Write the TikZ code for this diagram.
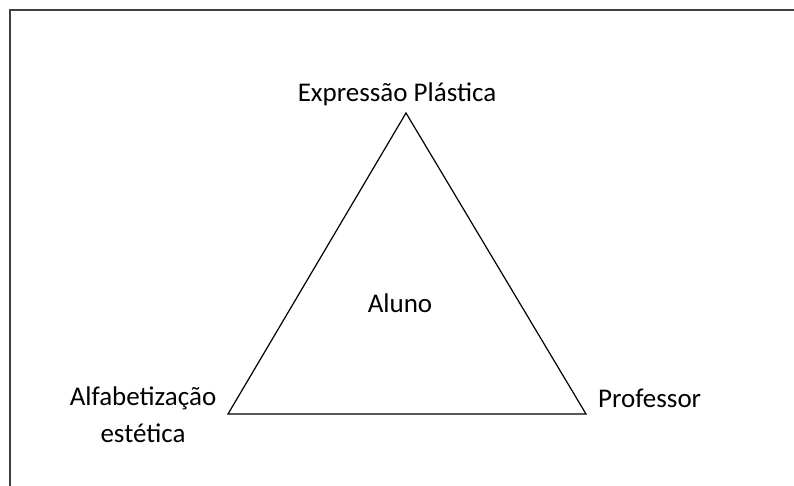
\documentclass[tikz,border=0pt]{standalone}
\usepackage{fontspec}
\setmainfont{Carlito}
\usetikzlibrary{positioning}

\begin{document}
\begin{tikzpicture}[x=1pt,y=1pt,
	txt/.style={font=\fontsize{27}{37}\selectfont, inner sep=0pt, anchor=base}]
	\useasboundingbox (0,0) rectangle (794,486);
	\draw[line width=2pt, black!75] (10,0) -- (10,476) -- (794,476);

	\coordinate (top) at (406,373);
	\coordinate (left) at (228,72);
	\coordinate (right) at (586,72);
	\draw[line width=1.2pt] (top) -- (left) -- (right) -- cycle;

	\node[txt] (expressao) at (397,384) {Expressão Plástica};
	\node[txt] (aluno) at (400,173) {Aluno};
	\node[txt, align=center] (alfabetizacao) at (143,43) {Alfabetização\\estética};
	\node[txt, anchor=base west] (professor) at (598,78) {Professor};
\end{tikzpicture}
\end{document}
